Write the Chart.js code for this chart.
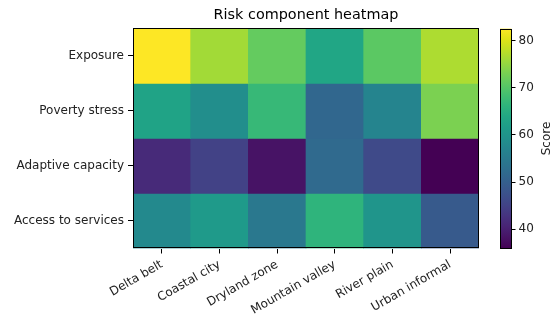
<!DOCTYPE html>
<html>
<head>
<meta charset="utf-8">
<script src="https://cdn.jsdelivr.net/npm/chart.js@4/dist/chart.umd.min.js"></script>
<style>
  html, body { margin: 0; padding: 0; background: #fff; }
  #wrap { position: relative; width: 552px; height: 320px; }
  #wrap canvas { position: absolute; left: 0; top: 0; }
</style>
</head>
<body>
<div id="wrap">
  <canvas id="heat" width="552" height="320"></canvas>
  <canvas id="cbar" width="552" height="320"></canvas>
</div>
<script>
// data
var regions = ['Delta belt', 'Coastal city', 'Dryland zone', 'Mountain valley', 'River plain', 'Urban informal'];
var components = ['Exposure', 'Poverty stress', 'Adaptive capacity', 'Access to services'];
var exposure = [82.6, 76.1, 71.4, 63.5, 70.7, 76.8];
var povertyStress = [63.0, 58.8, 67.2, 51.3, 56.9, 73.3];
var adaptiveCapacity = [41.5, 45.0, 38.2, 51.8, 46.2, 35.9];
var accessToServices = [57.8, 61.1, 54.6, 66.3, 60.2, 49.0];
var scoreTicks = [40, 50, 60, 70, 80];

var rows = [exposure, povertyStress, adaptiveCapacity, accessToServices];
var allVals = [].concat.apply([], rows);
var vmin = Math.min.apply(null, allVals);
var vmax = Math.max.apply(null, allVals);

// viridis colormap stops (0, 0.05, ... 1)
var viridis = ['#440154','#471365','#482475','#463480','#414487','#3b528b','#355f8d','#2f6c8e',
  '#2a788e','#25848e','#21918c','#1e9c89','#22a884','#2fb47c','#44bf70','#5ec962','#7ad151',
  '#9bd93c','#bddf26','#dfe318','#fde725'];

function hexRgb(h) {
    return [parseInt(h.slice(1, 3), 16), parseInt(h.slice(3, 5), 16), parseInt(h.slice(5, 7), 16)];
}

function cmap(v) {
    var t = (v - vmin) / (vmax - vmin);
    t = Math.max(0, Math.min(1, t));
    var p = t * (viridis.length - 1);
    var i = Math.min(Math.floor(p), viridis.length - 2);
    var f = p - i;
    var a = hexRgb(viridis[i]), b = hexRgb(viridis[i + 1]);
    var c = a.map(function (x, k) { return Math.round(x + (b[k] - x) * f); });
    return 'rgb(' + c.join(',') + ')';
}

var outline = {
    id: 'outline',
    afterDatasetsDraw: function (chart) {
        var a = chart.chartArea, ctx = chart.ctx;
        ctx.save();
        ctx.strokeStyle = '#000';
        ctx.lineWidth = 1;
        ctx.strokeRect(Math.round(a.left) + 0.5, Math.round(a.top) + 0.5,
            Math.round(a.right - a.left) - 1, Math.round(a.bottom - a.top) - 1);
        ctx.restore();
    }
};

var font = { family: 'DejaVu Sans', size: 12 };
var nRows = components.length;

new Chart(document.getElementById('heat'), {
    type: 'bar',
    data: {
        labels: regions,
        datasets: rows.map(function (vals, i) {
            return {
                label: components[i],
                data: vals.map(function () { return [nRows - 1 - i, nRows - i]; }),
                backgroundColor: vals.map(cmap),
                borderWidth: 0,
                grouped: false,
                barPercentage: 1,
                categoryPercentage: 1
            };
        })
    },
    options: {
        responsive: false,
        animation: false,
        layout: { padding: { left: 0, right: 73, top: 0, bottom: 0 } },
        plugins: {
            legend: { display: false },
            tooltip: { enabled: false },
            title: {
                display: true,
                text: 'Risk component heatmap',
                fullSize: false,
                color: '#000',
                font: { family: 'DejaVu Sans', size: 14.4, weight: 'normal', lineHeight: 1.2 },
                padding: { top: 7, bottom: 4 }
            }
        },
        scales: {
            x: {
                grid: { offset: false, drawOnChartArea: false, tickLength: 5, color: '#000' },
                border: { display: false },
                ticks: { color: '#222', font: font, minRotation: 30, maxRotation: 30, autoSkip: false, padding: 4 },
                afterFit: function (s) { s.height = 71.5; }
            },
            y: {
                min: 0,
                max: nRows,
                grid: { drawOnChartArea: false, tickLength: 5, color: '#000' },
                border: { display: false },
                afterBuildTicks: function (s) {
                    s.ticks = components.map(function (_, i) { return { value: nRows - 0.5 - i }; });
                },
                ticks: {
                    color: '#222',
                    font: font,
                    padding: 4,
                    callback: function (v) { return components[Math.round(nRows - 0.5 - v)]; }
                },
                afterFit: function (s) { s.width = 133; }
            }
        }
    },
    plugins: [outline]
});

var scoreLabel = {
    id: 'scoreLabel',
    afterDraw: function (chart) {
        var ctx = chart.ctx, a = chart.chartArea;
        ctx.save();
        ctx.translate(547, (a.top + a.bottom) / 2);
        ctx.rotate(-Math.PI / 2);
        ctx.font = '12px "DejaVu Sans"';
        ctx.fillStyle = '#222';
        ctx.textAlign = 'center';
        ctx.textBaseline = 'middle';
        ctx.fillText('Score', 0, 0);
        ctx.restore();
    }
};

new Chart(document.getElementById('cbar'), {
    type: 'bar',
    data: {
        labels: [''],
        datasets: [{
            data: [[vmin, vmax]],
            backgroundColor: function (c) {
                var a = c.chart.chartArea;
                if (!a) return viridis[10];
                var g = c.chart.ctx.createLinearGradient(0, a.bottom, 0, a.top);
                viridis.forEach(function (col, i) { g.addColorStop(i / (viridis.length - 1), col); });
                return g;
            },
            borderWidth: 0,
            barPercentage: 1,
            categoryPercentage: 1
        }]
    },
    options: {
        responsive: false,
        animation: false,
        layout: { padding: { left: 500, right: 0, top: 28.5, bottom: 71.5 } },
        plugins: { legend: { display: false }, tooltip: { enabled: false } },
        scales: {
            x: { display: false },
            y: {
                position: 'right',
                min: vmin,
                max: vmax,
                grid: { drawOnChartArea: false, tickLength: 4, color: '#000' },
                border: { display: false },
                afterBuildTicks: function (s) {
                    s.ticks = scoreTicks.map(function (v) { return { value: v }; });
                },
                ticks: { color: '#222', font: font, padding: 3 },
                afterFit: function (s) { s.width = 40.5; }
            }
        }
    },
    plugins: [outline, scoreLabel]
});
</script>
</body>
</html>
